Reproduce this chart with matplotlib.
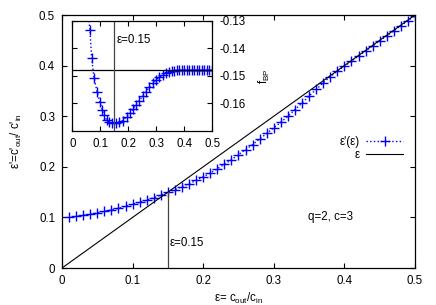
import numpy as np
import matplotlib
matplotlib.use('Agg')
import matplotlib.pyplot as plt

plt.rcParams['font.family'] = ['Liberation Sans', 'DejaVu Sans']
plt.rcParams['mathtext.default'] = 'regular'
plt.rcParams['axes.unicode_minus'] = False

# main curve: eps'(eps)
eps = [0.01, 0.02, 0.03, 0.04, 0.05, 0.06, 0.07, 0.08, 0.09, 0.10,
       0.11, 0.12, 0.13, 0.14, 0.15, 0.16, 0.17, 0.18, 0.19, 0.20,
       0.21, 0.22, 0.23, 0.24, 0.25, 0.26, 0.27, 0.28, 0.29, 0.30,
       0.31, 0.32, 0.33, 0.34, 0.35, 0.36, 0.37, 0.38, 0.39, 0.40,
       0.41, 0.42, 0.43, 0.44, 0.45, 0.46, 0.47, 0.48, 0.49, 0.50]
eps_out = [0.100, 0.102, 0.104, 0.106, 0.109, 0.112, 0.115, 0.118, 0.122, 0.126,
           0.130, 0.134, 0.139, 0.144, 0.150, 0.155, 0.161, 0.167, 0.173, 0.180,
           0.188, 0.196, 0.205, 0.214, 0.224, 0.234, 0.244, 0.255, 0.266, 0.277,
           0.288, 0.300, 0.313, 0.326, 0.340, 0.353, 0.366, 0.378, 0.389, 0.399,
           0.409, 0.419, 0.429, 0.439, 0.449, 0.459, 0.469, 0.479, 0.489, 0.499]
diag = [0.0, 0.5]

# inset: f_BP vs eps
f_eps = [0.055, 0.063, 0.069, 0.0775, 0.089, 0.099, 0.107, 0.113, 0.123, 0.132,
         0.143, 0.155, 0.167, 0.180, 0.194, 0.206, 0.216, 0.2275, 0.239, 0.251,
         0.263, 0.275, 0.287, 0.299, 0.311, 0.323, 0.335, 0.346, 0.355, 0.364,
         0.373, 0.382, 0.391, 0.400, 0.409, 0.418, 0.427, 0.436, 0.445, 0.454,
         0.463, 0.472, 0.481, 0.490, 0.499]
f_bp = [-0.1260, -0.1333, -0.1433, -0.1506, -0.1559, -0.1595, -0.1624, -0.1642, -0.1660, -0.1668,
        -0.1672, -0.1672, -0.1668, -0.1662, -0.1648, -0.1636, -0.1621, -0.1605, -0.1590, -0.1573,
        -0.1557, -0.1541, -0.1527, -0.1515, -0.1505, -0.1496, -0.1490, -0.1486, -0.1482, -0.1481,
        -0.1480, -0.1480, -0.1480, -0.1480, -0.1480, -0.1480, -0.1480, -0.1480, -0.1480, -0.1480,
        -0.1480, -0.1480, -0.1480, -0.1480, -0.1480]
f_plateau = -0.1478
eps_mark = 0.15

main_ticks = [0, 0.1, 0.2, 0.3, 0.4, 0.5]
main_labels = ['0', '0.1', '0.2', '0.3', '0.4', '0.5']
inset_yticks = [-0.13, -0.14, -0.15, -0.16]
inset_ylabels = ['-0.13', '-0.14', '-0.15', '-0.16']

fs = 8.3
blue = '#0000ff'

fig = plt.figure(figsize=(4.36, 3.05), dpi=100)
ax = fig.add_axes([0.1422, 0.1213, 0.8096, 0.8295])

ax.plot(eps, eps_out, color=blue, ls=':', lw=1.0, marker='+', ms=7, mew=1.0,
        label="ε'(ε)")
ax.plot(diag, diag, color='black', lw=0.8, label='ε')
ax.plot([eps_mark, eps_mark], [0, eps_mark], color='#444444', lw=0.9)

ax.set_xlim(0, 0.5)
ax.set_ylim(0, 0.5)
ax.set_xticks(main_ticks)
ax.set_xticklabels(main_labels)
ax.set_yticks(main_ticks)
ax.set_yticklabels(main_labels)
ax.tick_params(direction='in', top=True, right=True, length=3.5, width=0.8,
               labelsize=fs, pad=5)
for s in ax.spines.values():
    s.set_linewidth(0.9)

ax.set_xlabel(r'ε= c$_{out}$/c$_{in}$', fontsize=fs, labelpad=3)
ax.set_ylabel(r"ε'=c'$_{out}$/ c'$_{in}$", fontsize=fs, labelpad=11)

ax.text(0.153, 0.05, 'ε=0.15', fontsize=fs, va='center', ha='left')
ax.text(0.348, 0.10, 'q=2, c=3', fontsize=fs, va='center', ha='left')

leg = ax.legend(loc='upper right', bbox_to_anchor=(0.98, 0.54), frameon=False,
                fontsize=fs, markerfirst=False, handlelength=3.2,
                borderaxespad=0, labelspacing=0.1, handletextpad=0.6)

# inset
ins = fig.add_axes([0.1658, 0.5705, 0.3211, 0.3607])
ins.plot(f_eps, f_bp, color=blue, ls=':', lw=1.0, marker='+', ms=7, mew=1.0)
ins.axhline(f_plateau, color='black', lw=0.9)
ins.axvline(eps_mark, color='#444444', lw=0.9)
ins.set_xlim(0, 0.5)
ins.set_ylim(-0.17, -0.13)
ins.set_xticks(main_ticks)
ins.set_xticklabels(main_labels)
ins.set_yticks(inset_yticks)
ins.set_yticklabels(inset_ylabels)
ins.tick_params(direction='in', top=True, right=True, left=True,
                labelleft=False, labelright=True, length=3.5, width=0.8,
                labelsize=fs, pad=5)
ins.yaxis.set_label_position('right')
ins.set_ylabel(r'f$_{BP}$', fontsize=fs, labelpad=8)
for s in ins.spines.values():
    s.set_linewidth(0.9)
ins.text(0.16, -0.1368, 'ε=0.15', fontsize=fs, va='center', ha='left')

fig.savefig('out.png', dpi=100)
